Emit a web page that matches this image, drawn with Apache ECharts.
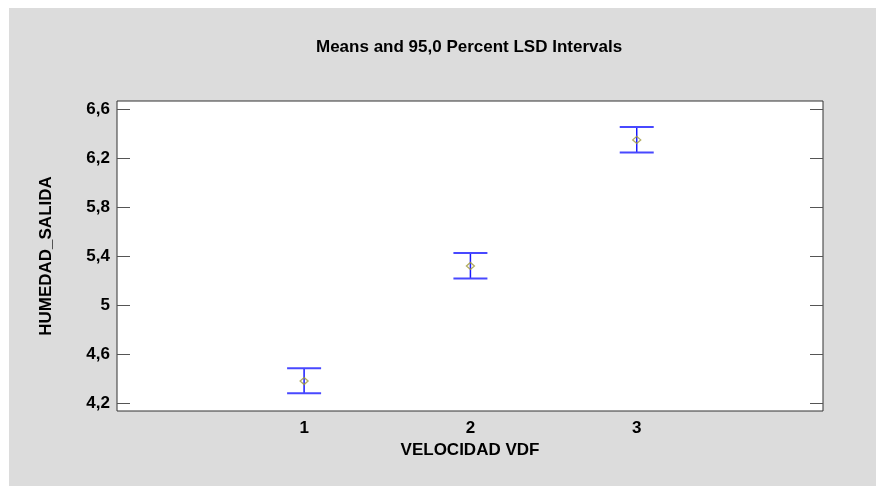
<!DOCTYPE html>
<html>
<head>
<meta charset="utf-8">
<script src="https://cdn.jsdelivr.net/npm/echarts@6/dist/echarts.min.js"></script>
<style>
html,body{margin:0;padding:0;background:#ffffff;}
#chart{width:876px;height:486px;}
</style>
</head>
<body>
<div id="chart"></div>
<script>
// ---- data ----
var categories = [1, 2, 3];
var means = [4.38, 5.32, 6.35];
var lowerLimits = [4.28, 5.217, 6.248];
var upperLimits = [4.485, 5.425, 6.455];
var yTickValues = [4.2, 4.6, 5, 5.4, 5.8, 6.2, 6.6];
var xTickValues = [1, 2, 3];
var titleText = 'Means and 95,0 Percent LSD Intervals';
var xName = 'VELOCIDAD VDF';
var yName = 'HUMEDAD_SALIDA';

var font = 'Liberation Sans';
var intervalData = categories.map(function (c, i) { return [c, lowerLimits[i], upperLimits[i]]; });
var meanData = categories.map(function (c, i) { return [c, means[i]]; });

function fmt(v) { return String(v).replace('.', ','); }

var chart = echarts.init(document.getElementById('chart'), null, { renderer: 'canvas' });
chart.setOption({
  backgroundColor: '#ffffff',
  animation: false,
  graphic: [{
    type: 'rect', z: -10, silent: true,
    shape: { x: 9, y: 8, width: 867, height: 478 },
    style: { fill: '#dcdcdc' }
  }],
  title: {
    text: titleText,
    left: 311, top: 34,
    textStyle: { fontFamily: font, fontWeight: 'bold', fontSize: 17, color: '#000' }
  },
  grid: {
    left: 117, top: 101, right: 53, bottom: 75,
    show: true, backgroundColor: '#ffffff', borderColor: '#333333', borderWidth: 1
  },
  xAxis: {
    type: 'value', min: -0.125, max: 4.12,
    name: xName, nameLocation: 'middle', nameGap: 31,
    nameTextStyle: { fontFamily: font, fontWeight: 'bold', fontSize: 17, color: '#000' },
    axisLine: { show: false, onZero: false },
    axisTick: { show: false },
    splitLine: { show: false },
    axisLabel: {
      customValues: xTickValues, margin: 9,
      fontFamily: font, fontWeight: 'bold', fontSize: 17, color: '#000',
      formatter: function (v) { return fmt(v); }
    }
  },
  yAxis: [{
    type: 'value', min: 4.135, max: 6.668, position: 'left',
    name: yName, nameLocation: 'middle', nameGap: 62, nameRotate: 90,
    nameTextStyle: { fontFamily: font, fontWeight: 'bold', fontSize: 17, color: '#000' },
    axisLine: { show: false, onZero: false },
    axisTick: { show: true, inside: true, length: 13, customValues: yTickValues, lineStyle: { color: '#555555' } },
    splitLine: { show: false },
    axisLabel: {
      customValues: yTickValues, margin: 7,
      fontFamily: font, fontWeight: 'bold', fontSize: 17, color: '#000',
      formatter: function (v) { return fmt(v); }
    }
  }, {
    type: 'value', min: 4.135, max: 6.668, position: 'right',
    axisLine: { show: false, onZero: false },
    axisTick: { show: true, inside: true, length: 13, customValues: yTickValues, lineStyle: { color: '#555555' } },
    splitLine: { show: false },
    axisLabel: { show: false }
  }],
  series: [{
    type: 'custom',
    data: intervalData,
    encode: { x: 0, y: [1, 2] },
    renderItem: function (params, api) {
      var x = api.value(0);
      var lo = api.coord([x, api.value(1)]);
      var hi = api.coord([x, api.value(2)]);
      var hw = 17;
      var cap = { stroke: '#4848ff', lineWidth: 2 };
      var stem = { stroke: '#1a1aff', lineWidth: 1.5 };
      return {
        type: 'group',
        children: [
          { type: 'line', shape: { x1: lo[0], y1: lo[1], x2: hi[0], y2: hi[1] }, style: stem },
          { type: 'line', shape: { x1: lo[0] - hw, y1: lo[1], x2: lo[0] + hw, y2: lo[1] }, style: cap },
          { type: 'line', shape: { x1: hi[0] - hw, y1: hi[1], x2: hi[0] + hw, y2: hi[1] }, style: cap }
        ]
      };
    }
  }, {
    type: 'scatter',
    data: meanData,
    symbol: 'diamond',
    symbolSize: [8, 7],
    itemStyle: { color: 'rgba(255,255,255,0)', borderColor: '#a09a3a', borderWidth: 1.3 },
    z: 5
  }]
});
</script>
</body>
</html>
